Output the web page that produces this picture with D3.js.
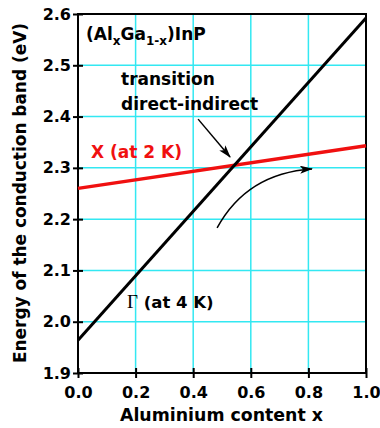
<!DOCTYPE html>
<html>
<head>
<meta charset="utf-8">
<script src="https://cdn.jsdelivr.net/npm/d3@7"></script>
<style>
  body { margin: 0; background: #fff; }
  text { font-family: "DejaVu Sans", sans-serif; font-weight: bold; }
</style>
</head>
<body>
<svg id="chart"></svg>
<script>
// aluminium content x and band energies (eV)
const xContent = [0.0, 1.0];
const gammaBand = [1.964, 2.592];   // Γ (at 4 K)
const xBand = [2.26, 2.343];        // X (at 2 K)
const xTicks = [0.0, 0.2, 0.4, 0.6, 0.8, 1.0];
const yTicks = [1.9, 2.0, 2.1, 2.2, 2.3, 2.4, 2.5, 2.6];

const margin = { top: 14, right: 14, bottom: 55, left: 78 };
const width = 380 - margin.left - margin.right;
const height = 428 - margin.top - margin.bottom;

const svg = d3.select("#chart")
  .attr("width", 380)
  .attr("height", 428);

const defs = svg.append("defs");
defs.append("marker")
  .attr("id", "head")
  .attr("viewBox", "0 0 13 8")
  .attr("refX", 12)
  .attr("refY", 4)
  .attr("markerWidth", 13)
  .attr("markerHeight", 8)
  .attr("markerUnits", "userSpaceOnUse")
  .attr("orient", "auto")
  .append("path")
  .attr("d", "M0,0 L13,4 L0,8 L3,4 Z")
  .attr("fill", "#000");

const g = svg.append("g")
  .attr("transform", "translate(" + margin.left + "," + margin.top + ")");

const x = d3.scaleLinear().domain([0, 1]).range([0, width]);
const y = d3.scaleLinear().domain([1.9, 2.6]).range([height, 0]);

// grid
g.append("g")
  .selectAll("line")
  .data(xTicks.slice(1, -1))
  .enter().append("line")
  .attr("x1", d => x(d)).attr("x2", d => x(d))
  .attr("y1", 0).attr("y2", height)
  .attr("stroke", "#33e8f2").attr("stroke-width", 1.5);

g.append("g")
  .selectAll("line")
  .data(yTicks.slice(1, -1))
  .enter().append("line")
  .attr("x1", 0).attr("x2", width)
  .attr("y1", d => y(d)).attr("y2", d => y(d))
  .attr("stroke", "#33e8f2").attr("stroke-width", 1.5);

// axes: major ticks crossing the axis, minor ticks in between
const xAxis = g.append("g").attr("transform", "translate(0," + height + ")");
xAxis.call(d3.axisBottom(x).tickValues(d3.range(0, 1.001, 0.1)).tickSize(3).tickFormat(""));
xAxis.call(d3.axisBottom(x).tickValues(xTicks).tickSize(5).tickFormat(d3.format(".1f")));
xAxis.selectAll(".domain").remove();
xAxis.selectAll("line")
  .attr("y1", function() { return -d3.select(this).attr("y2"); })
  .attr("stroke", "#000").attr("stroke-width", 2);
xAxis.selectAll("text")
  .attr("y", 14)
  .style("font-size", "16px").attr("fill", "#000");

const yAxis = g.append("g");
yAxis.call(d3.axisLeft(y).tickValues(d3.range(1.9, 2.601, 0.05)).tickSize(3).tickFormat(""));
yAxis.call(d3.axisLeft(y).tickValues(yTicks).tickSize(5).tickFormat(d3.format(".1f")));
yAxis.selectAll(".domain").remove();
yAxis.selectAll("line")
  .attr("x1", function() { return -d3.select(this).attr("x2"); })
  .attr("stroke", "#000").attr("stroke-width", 2);
yAxis.selectAll("text")
  .attr("x", -7)
  .style("font-size", "16px").attr("fill", "#000");

// frame
g.append("rect")
  .attr("width", width).attr("height", height)
  .attr("fill", "none").attr("stroke", "#000").attr("stroke-width", 2);

// band lines
const line = d3.line()
  .x(d => x(d[0]))
  .y(d => y(d[1]));

g.append("path")
  .datum(d3.zip(xContent, xBand))
  .attr("fill", "none").attr("stroke", "#f01010").attr("stroke-width", 3.5)
  .attr("d", line);

g.append("path")
  .datum(d3.zip(xContent, gammaBand))
  .attr("fill", "none").attr("stroke", "#000").attr("stroke-width", 3)
  .attr("d", line);

// arrows
g.append("path")
  .attr("d", line([[0.417, 2.395], [0.528, 2.321]]))
  .attr("fill", "none").attr("stroke", "#000").attr("stroke-width", 1.5)
  .attr("marker-end", "url(#head)");

const curve = d3.path();
curve.moveTo(x(0.483), y(2.183));
curve.bezierCurveTo(x(0.545), y(2.247), x(0.649), y(2.292), x(0.8125), y(2.298));
g.append("path")
  .attr("d", curve.toString())
  .attr("fill", "none").attr("stroke", "#000").attr("stroke-width", 1.5)
  .attr("marker-end", "url(#head)");

// labels
const title = g.append("text")
  .attr("x", 8).attr("y", 26)
  .style("font-size", "17px");
title.append("tspan").text("(Al");
title.append("tspan").text("x").style("font-size", "12px").attr("dy", 5);
title.append("tspan").text("Ga").attr("dy", -5);
title.append("tspan").text("1-x").style("font-size", "12px").attr("dy", 5);
title.append("tspan").text(")InP").attr("dy", -5);

g.append("text").attr("x", 43).attr("y", 71)
  .style("font-size", "17px").text("transition");
g.append("text").attr("x", 43).attr("y", 96)
  .style("font-size", "17px").text("direct-indirect");

g.append("text").attr("x", 13).attr("y", 144)
  .style("font-size", "17px").attr("fill", "#f01010").text("X (at 2 K)");

const gl = g.append("text").attr("x", 49).attr("y", 294)
  .style("font-size", "16.5px");
gl.append("tspan").text("Γ")
  .style("font-family", "'Liberation Serif', serif").style("font-weight", "normal")
  .style("font-size", "19px");
gl.append("tspan").text(" (at 4 K)");

svg.append("text")
  .attr("x", 221.5).attr("y", 421)
  .attr("text-anchor", "middle")
  .style("font-size", "17.5px")
  .attr("textLength", 203).attr("lengthAdjust", "spacingAndGlyphs")
  .text("Aluminium content x");

svg.append("text")
  .attr("transform", "translate(26,193) rotate(-90)")
  .attr("text-anchor", "middle")
  .style("font-size", "18px")
  .attr("textLength", 340).attr("lengthAdjust", "spacingAndGlyphs")
  .text("Energy of the conduction band (eV)");
</script>
</body>
</html>
